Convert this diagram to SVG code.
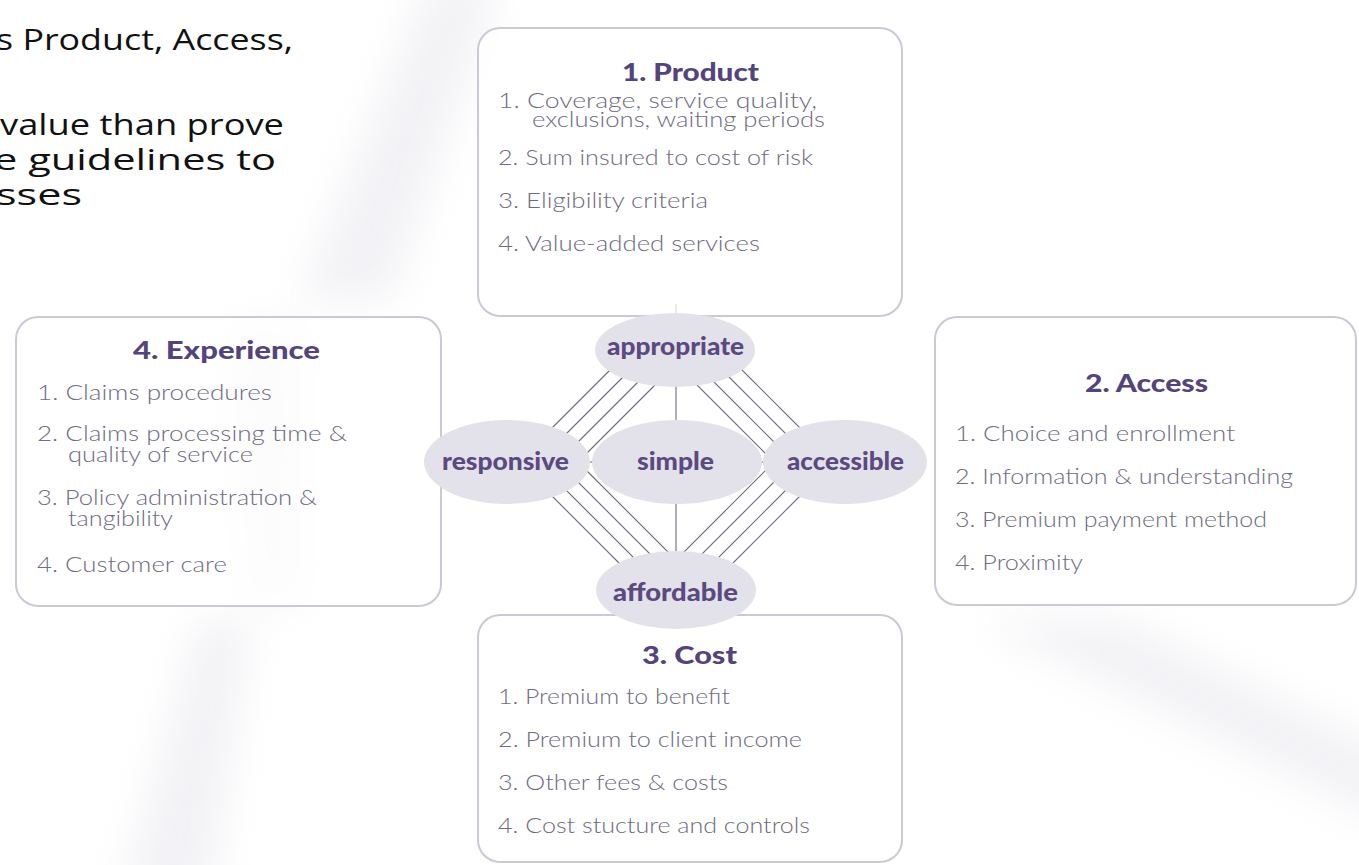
<svg xmlns="http://www.w3.org/2000/svg" width="1359" height="865" viewBox="0 0 1359 865">
<defs>
<filter id="blur" x="-50%" y="-50%" width="200%" height="200%"><feGaussianBlur stdDeviation="20"/></filter>
<style>
.slide{font-family:"Open Sans","Liberation Sans",sans-serif;font-size:29px;fill:#111111}
.box{fill:#ffffff;fill-opacity:0.75;stroke:#cbc9d4;stroke-width:2}
.ell{fill:#e3e1ea}
.ttl{font-family:Lato,"Open Sans",sans-serif;font-weight:900;font-size:24px;fill:#54447c}
.lab{font-family:Lato,"Open Sans",sans-serif;font-weight:900;font-size:25px;fill:#5a4a80}
.itm{font-family:Lato,"Open Sans",sans-serif;font-weight:300;font-size:22px;fill:#6f6b82}
.ln{stroke:#6d6a7c;stroke-width:1.1;fill:none}
</style>
</defs>
<rect width="1359" height="865" fill="#ffffff"/>
<g id="background" filter="url(#blur)" fill="#e2e2ea" opacity="0.45">
<polygon points="430,-20 500,-20 390,300 300,300"/>
<polygon points="200,620 250,620 210,900 120,900"/>
<polygon points="230,330 300,330 300,600 250,600"/>
<polygon points="980,620 1120,620 1400,760 1400,830"/>
</g>
<g id="slide-text" class="slide">
<text x="-4" y="50" textLength="297" lengthAdjust="spacingAndGlyphs">s Product, Access,</text>
<text x="0" y="135" textLength="284" lengthAdjust="spacingAndGlyphs">value than prove</text>
<text x="-6" y="170" textLength="282" lengthAdjust="spacingAndGlyphs">e guidelines to</text>
<text x="-4" y="205" textLength="86" lengthAdjust="spacingAndGlyphs">sses</text>
</g>
<g id="connectors">
<line class="ln" x1="578" y1="462" x2="688" y2="352"/>
<line class="ln" x1="558" y1="462" x2="668" y2="352"/>
<line class="ln" x1="538" y1="462" x2="648" y2="352"/>
<line class="ln" x1="518" y1="462" x2="628" y2="352"/>
<line class="ln" x1="664" y1="352" x2="774" y2="462"/>
<line class="ln" x1="684" y1="352" x2="794" y2="462"/>
<line class="ln" x1="704" y1="352" x2="814" y2="462"/>
<line class="ln" x1="724" y1="352" x2="834" y2="462"/>
<line class="ln" x1="578" y1="462" x2="706" y2="590"/>
<line class="ln" x1="558" y1="462" x2="686" y2="590"/>
<line class="ln" x1="538" y1="462" x2="666" y2="590"/>
<line class="ln" x1="518" y1="462" x2="646" y2="590"/>
<line class="ln" x1="774" y1="462" x2="646" y2="590"/>
<line class="ln" x1="794" y1="462" x2="666" y2="590"/>
<line class="ln" x1="814" y1="462" x2="686" y2="590"/>
<line class="ln" x1="834" y1="462" x2="706" y2="590"/>
<line class="ln" x1="676" y1="304" x2="676" y2="590"/>
<line class="ln" x1="507" y1="462" x2="845" y2="462"/>
</g>
<g id="product">
<rect class="box" x="478" y="28" width="424" height="288" rx="22"/>
<text class="ttl" x="622" y="81" textLength="137" lengthAdjust="spacingAndGlyphs">1. Product</text>
<text class="itm" x="498" y="108" textLength="319" lengthAdjust="spacingAndGlyphs">1. Coverage, service quality,</text>
<text class="itm" x="532" y="127" textLength="293" lengthAdjust="spacingAndGlyphs">exclusions, waiting periods</text>
<text class="itm" x="498" y="165" textLength="315" lengthAdjust="spacingAndGlyphs">2. Sum insured to cost of risk</text>
<text class="itm" x="498" y="208" textLength="210" lengthAdjust="spacingAndGlyphs">3. Eligibility criteria</text>
<text class="itm" x="498" y="251" textLength="262" lengthAdjust="spacingAndGlyphs">4. Value-added services</text>
</g>
<g id="experience">
<rect class="box" x="16" y="317" width="425" height="289" rx="22"/>
<text class="ttl" x="133" y="359" textLength="187" lengthAdjust="spacingAndGlyphs">4. Experience</text>
<text class="itm" x="37" y="400" textLength="235" lengthAdjust="spacingAndGlyphs">1. Claims procedures</text>
<text class="itm" x="37" y="441" textLength="310" lengthAdjust="spacingAndGlyphs">2. Claims processing time &amp;</text>
<text class="itm" x="68" y="462" textLength="185" lengthAdjust="spacingAndGlyphs">quality of service</text>
<text class="itm" x="37" y="505" textLength="280" lengthAdjust="spacingAndGlyphs">3. Policy administration &amp;</text>
<text class="itm" x="68" y="526" textLength="105" lengthAdjust="spacingAndGlyphs">tangibility</text>
<text class="itm" x="37" y="572" textLength="190" lengthAdjust="spacingAndGlyphs">4. Customer care</text>
</g>
<g id="access">
<rect class="box" x="935" y="317" width="421" height="288" rx="22"/>
<text class="ttl" x="1085" y="392" textLength="123" lengthAdjust="spacingAndGlyphs">2. Access</text>
<text class="itm" x="955" y="441" textLength="280" lengthAdjust="spacingAndGlyphs">1. Choice and enrollment</text>
<text class="itm" x="955" y="484" textLength="338" lengthAdjust="spacingAndGlyphs">2. Information &amp; understanding</text>
<text class="itm" x="955" y="527" textLength="312" lengthAdjust="spacingAndGlyphs">3. Premium payment method</text>
<text class="itm" x="955" y="570" textLength="128" lengthAdjust="spacingAndGlyphs">4. Proximity</text>
</g>
<g id="cost">
<rect class="box" x="478" y="615" width="424" height="247" rx="22"/>
<text class="ttl" x="642" y="664" textLength="95" lengthAdjust="spacingAndGlyphs">3. Cost</text>
<text class="itm" x="498" y="704" textLength="232" lengthAdjust="spacingAndGlyphs">1. Premium to benefit</text>
<text class="itm" x="498" y="747" textLength="304" lengthAdjust="spacingAndGlyphs">2. Premium to client income</text>
<text class="itm" x="498" y="790" textLength="230" lengthAdjust="spacingAndGlyphs">3. Other fees &amp; costs</text>
<text class="itm" x="498" y="833" textLength="312" lengthAdjust="spacingAndGlyphs">4. Cost stucture and controls</text>
</g>
<g id="appropriate">
<ellipse class="ell" cx="675" cy="350" rx="80" ry="37"/>
<text class="lab" x="607" y="355" textLength="137" lengthAdjust="spacingAndGlyphs">appropriate</text>
</g>
<g id="responsive">
<ellipse class="ell" cx="507" cy="462" rx="83" ry="42"/>
<text class="lab" x="442" y="470" textLength="127" lengthAdjust="spacingAndGlyphs">responsive</text>
</g>
<g id="simple">
<ellipse class="ell" cx="677" cy="462" rx="85" ry="42"/>
<text class="lab" x="637" y="470" textLength="77" lengthAdjust="spacingAndGlyphs">simple</text>
</g>
<g id="accessible">
<ellipse class="ell" cx="845" cy="462" rx="82" ry="42"/>
<text class="lab" x="787" y="470" textLength="117" lengthAdjust="spacingAndGlyphs">accessible</text>
</g>
<g id="affordable">
<ellipse class="ell" cx="676" cy="590" rx="80" ry="39"/>
<text class="lab" x="613" y="601" textLength="125" lengthAdjust="spacingAndGlyphs">affordable</text>
</g>
</svg>
